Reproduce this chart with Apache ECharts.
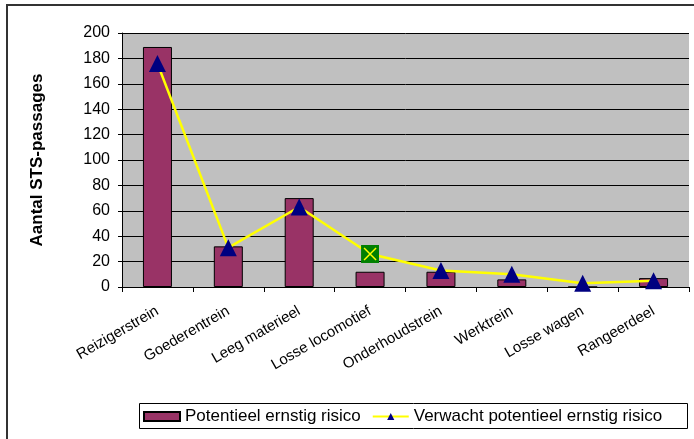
<!DOCTYPE html>
<html>
<head>
<meta charset="utf-8">
<script src="https://cdn.jsdelivr.net/npm/echarts@6/dist/echarts.min.js"></script>
<style>
  html, body { margin: 0; padding: 0; background: #fff; }
  #chart { width: 694px; height: 439px; }
</style>
</head>
<body>
<div id="chart"></div>
<script>
var categories = ['Reizigerstrein', 'Goederentrein', 'Leeg materieel', 'Losse locomotief', 'Onderhoudstrein', 'Werktrein', 'Losse wagen', 'Rangeerdeel'];
var potentieel = [189, 32, 70, 12, 12, 6, 0, 7];
var verwacht = [176, 31, 63, 26, 13, 10, 3, 5];
var yTicks = [0, 20, 40, 60, 80, 100, 120, 140, 160, 180, 200];

var font = 'Arial, "Liberation Sans", sans-serif';
// green box with yellow cross, used for the one odd marker
var crossIcon = 'image://data:image/svg+xml;utf8,' + encodeURIComponent(
  '<svg xmlns="http://www.w3.org/2000/svg" width="18" height="18">' +
  '<rect x="0" y="0" width="18" height="18" fill="#008000"/>' +
  '<path d="M3 3 L15 15 M15 3 L3 15" stroke="#FFFF00" stroke-width="1.5"/></svg>');

var lineData = verwacht.map(function (v, i) {
  if (i === 3) return { value: v, symbol: crossIcon, symbolSize: 18 };
  return v;
});

var chart = echarts.init(document.getElementById('chart'));
var option = {
  animation: false,
  textStyle: { fontFamily: font },
  graphic: [{
    type: 'rect',
    shape: { x: 7, y: 5, width: 700, height: 450 },
    style: { fill: null, stroke: '#333', lineWidth: 2 },
    silent: true
  }, {
    // legend frame
    type: 'rect',
    shape: { x: 139.5, y: 403.5, width: 548, height: 25 },
    style: { fill: '#fff', stroke: '#000', lineWidth: 1 },
    silent: true, z: -1
  }],
  grid: { left: 122, right: 5, top: 33, bottom: 152 },
  legend: {
    left: 139, top: 404,
    padding: [4, 4, 4, 4],
    itemGap: 11,
    itemWidth: 36, itemHeight: 9,
    textStyle: { fontSize: 17, color: '#000', fontFamily: font },
    data: [{ name: 'Potentieel ernstig risico', icon: 'rect' }, 'Verwacht potentieel ernstig risico']
  },
  xAxis: {
    type: 'category',
    data: categories,
    axisLine: { lineStyle: { color: '#000', width: 1 } },
    axisTick: { show: true, length: 5, lineStyle: { color: '#000' } },
    axisLabel: { interval: 0, rotate: 30, fontSize: 15, color: '#000', margin: 23, fontFamily: font },
    splitLine: { show: false }
  },
  yAxis: {
    type: 'value',
    min: 0, max: 200, interval: 20,
    name: 'Aantal STS-passages',
    nameLocation: 'middle',
    nameGap: 76,
    nameTextStyle: { fontSize: 17, fontWeight: 'bold', color: '#000', fontFamily: font },
    axisLine: { show: true, lineStyle: { color: '#000' } },
    axisTick: { show: true, length: 4, lineStyle: { color: '#000' } },
    axisLabel: {
      fontSize: 16, color: '#000', margin: 12, fontFamily: font,
      formatter: function (v) { return yTicks.indexOf(v) >= 0 ? String(v) : ''; }
    },
    splitLine: { show: true, lineStyle: { color: '#000', width: 1 } },
    splitArea: { show: true, areaStyle: { color: ['#C0C0C0', '#C0C0C0'] } }
  },
  series: [{
    name: 'Potentieel ernstig risico',
    type: 'bar',
    data: potentieel,
    barWidth: 29,
    itemStyle: { color: '#993366', borderColor: '#000', borderWidth: 1 }
  }, {
    name: 'Verwacht potentieel ernstig risico',
    type: 'line',
    data: lineData,
    symbol: 'triangle',
    symbolSize: 17,
    z: 3,
    lineStyle: { color: '#FFFF00', width: 2.5 },
    itemStyle: { color: '#000080' }
  }]
};
chart.setOption(option);
window.onresize = function () {
  chart.resize();
};
</script>
</body>
</html>
